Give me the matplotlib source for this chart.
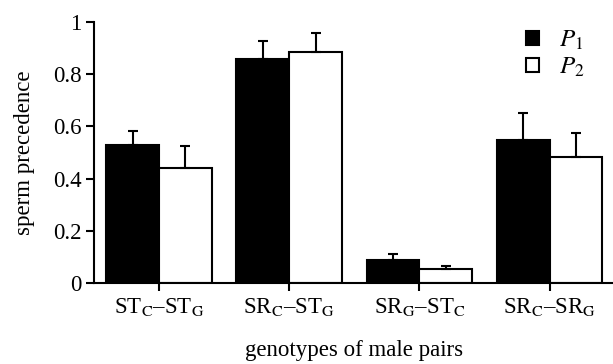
import matplotlib.pyplot as plt
import numpy as np
from matplotlib.patches import Patch
from matplotlib.ticker import FuncFormatter

plt.rcParams['font.family'] = ['Liberation Serif', 'DejaVu Serif']
plt.rcParams['mathtext.fontset'] = 'stix'

groups = [r'ST$_{\mathrm{C}}$–ST$_{\mathrm{G}}$', r'SR$_{\mathrm{C}}$–ST$_{\mathrm{G}}$',
          r'SR$_{\mathrm{G}}$–ST$_{\mathrm{C}}$', r'SR$_{\mathrm{C}}$–SR$_{\mathrm{G}}$']
p1 = [0.527, 0.857, 0.088, 0.548]
p1_err = [0.055, 0.070, 0.023, 0.102]
p2 = [0.439, 0.886, 0.052, 0.482]
p2_err = [0.086, 0.073, 0.014, 0.091]

x = np.arange(len(groups))
w = 0.405

fig = plt.figure(figsize=(6.13, 3.64), dpi=100)
ax = fig.add_axes([0.153, 0.2225, 0.85, 0.717])

lw = 1.5
ax.bar(x - w / 2, p1, w, color='black', edgecolor='black', linewidth=lw)
ax.bar(x + w / 2, p2, w, color='white', edgecolor='black', linewidth=lw)
ax.errorbar(x - w / 2, p1, yerr=[np.zeros(4), p1_err], fmt='none', ecolor='black',
            elinewidth=lw, capsize=3.5, capthick=lw)
ax.errorbar(x + w / 2, p2, yerr=[np.zeros(4), p2_err], fmt='none', ecolor='black',
            elinewidth=lw, capsize=3.5, capthick=lw)

fs = 16.5
ax.set_xlim(-0.5, 3.5)
ax.set_ylim(0, 1)
ax.set_xticks(x)
ax.set_xticklabels(groups, fontsize=fs)
ax.set_yticks([0, 0.2, 0.4, 0.6, 0.8, 1])
ax.yaxis.set_major_formatter(FuncFormatter(lambda v, p: f'{v:g}'))
ax.tick_params(axis='y', labelsize=fs, width=lw, length=6, pad=3)
ax.tick_params(axis='x', width=lw, length=6, pad=3)
for s in ['top', 'right']:
    ax.spines[s].set_visible(False)
for s in ['left', 'bottom']:
    ax.spines[s].set_linewidth(lw)

ax.set_ylabel('sperm precedence', fontsize=fs, labelpad=13)
ax.set_xlabel('genotypes of male pairs', fontsize=fs, labelpad=16)

handles = [Patch(facecolor='black', edgecolor='black', linewidth=lw),
           Patch(facecolor='white', edgecolor='black', linewidth=lw)]
ax.legend(handles, [r'$P_1$', r'$P_2$'], loc='upper right', bbox_to_anchor=(0.985, 1.06),
          frameon=False, fontsize=18, handlelength=0.5, handleheight=0.5,
          handletextpad=0.8, labelspacing=0.15)

fig.savefig('out.png', dpi=100)
